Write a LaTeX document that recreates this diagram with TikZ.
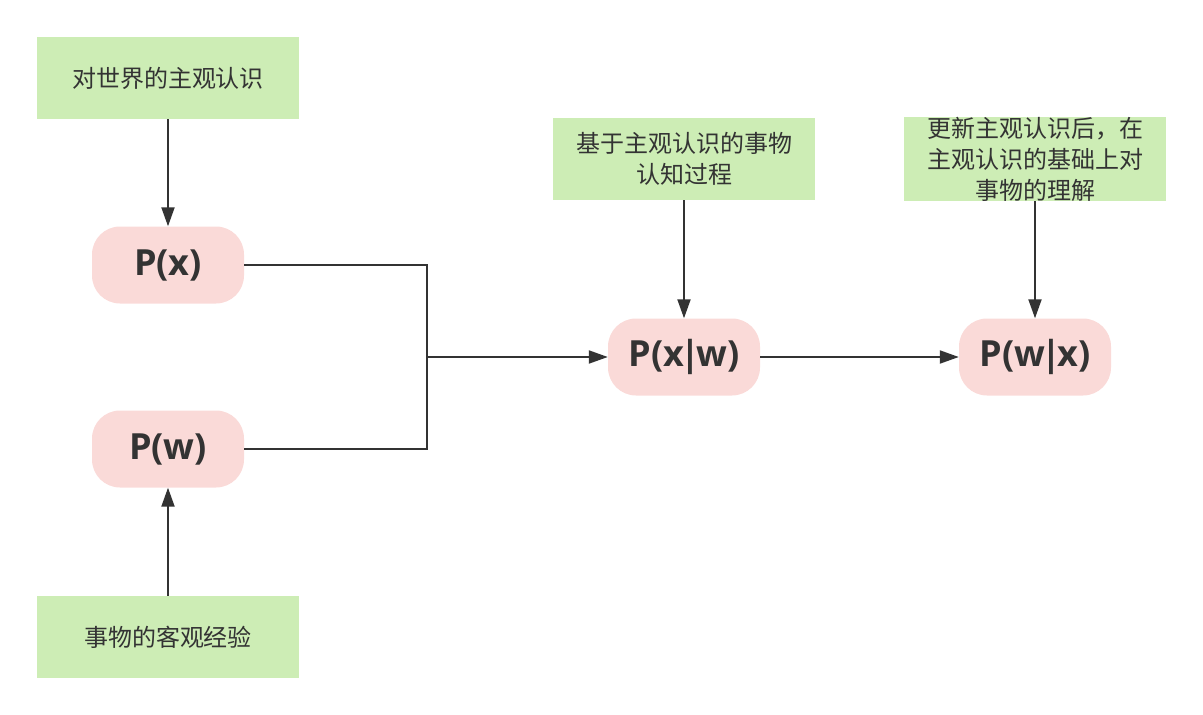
\documentclass[tikz,border=0pt]{standalone}
\usepackage{fontspec}
\setmainfont{Open Sans}
\newfontfamily\cjk{Noto Sans CJK SC}
\usetikzlibrary{arrows.meta}
\definecolor{gfill}{HTML}{CDEDB5}
\definecolor{pfill}{HTML}{FADAD8}
\definecolor{ink}{HTML}{333333}
\newcommand{\vbar}{\kern-4pt|\kern-4pt}
\tikzset{
  gbox/.style={fill=gfill, draw=none, minimum width=262pt, minimum height=82pt, inner sep=0pt,
    align=center, text=ink, font=\cjk\fontsize{24}{31}\selectfont},
  pbox/.style={fill=pfill, draw=none, rounded corners=28pt, minimum width=152pt, minimum height=77pt,
    inner sep=0pt, text=ink, font=\fontsize{36}{40}\selectfont\bfseries},
  conn/.style={draw=ink, line width=2pt, -{Triangle[length=19pt,width=13pt]}},
  plain/.style={draw=ink, line width=2pt}
}
\begin{document}
\begin{tikzpicture}[x=1pt,y=-1pt]
\useasboundingbox (0,0) rectangle (1203,715);
\node[gbox] (g1) at (168,78) {对世界的主观认识};
\node[gbox] (g2) at (168,637) {事物的客观经验};
\node[gbox] (g3) at (684,159) {基于主观认识的事物\\认知过程};
\node[gbox] (g4) at (1035,159) {更新主观认识后，在\\主观认识的基础上对\\事物的理解};
\node[pbox] (px) at (168,265) {P(x)};
\node[pbox] (pw) at (168,449) {P(w)};
\node[pbox] (pxw) at (684,357) {P(x\vbar w)};
\node[pbox] (pwx) at (1035,357) {P(w\vbar x)};
\coordinate (j) at (427,357);
\draw[conn] (g1) -- (px);
\draw[conn] (g2) -- (pw);
\draw[conn] (g3) -- (pxw);
\draw[conn] (g4) -- (pwx);
\draw[plain] (px.east) -| (j) |- (pw.east);
\draw[conn] (j) -- (pxw.west);
\draw[conn] (pxw) -- (pwx);
\end{tikzpicture}
\end{document}
